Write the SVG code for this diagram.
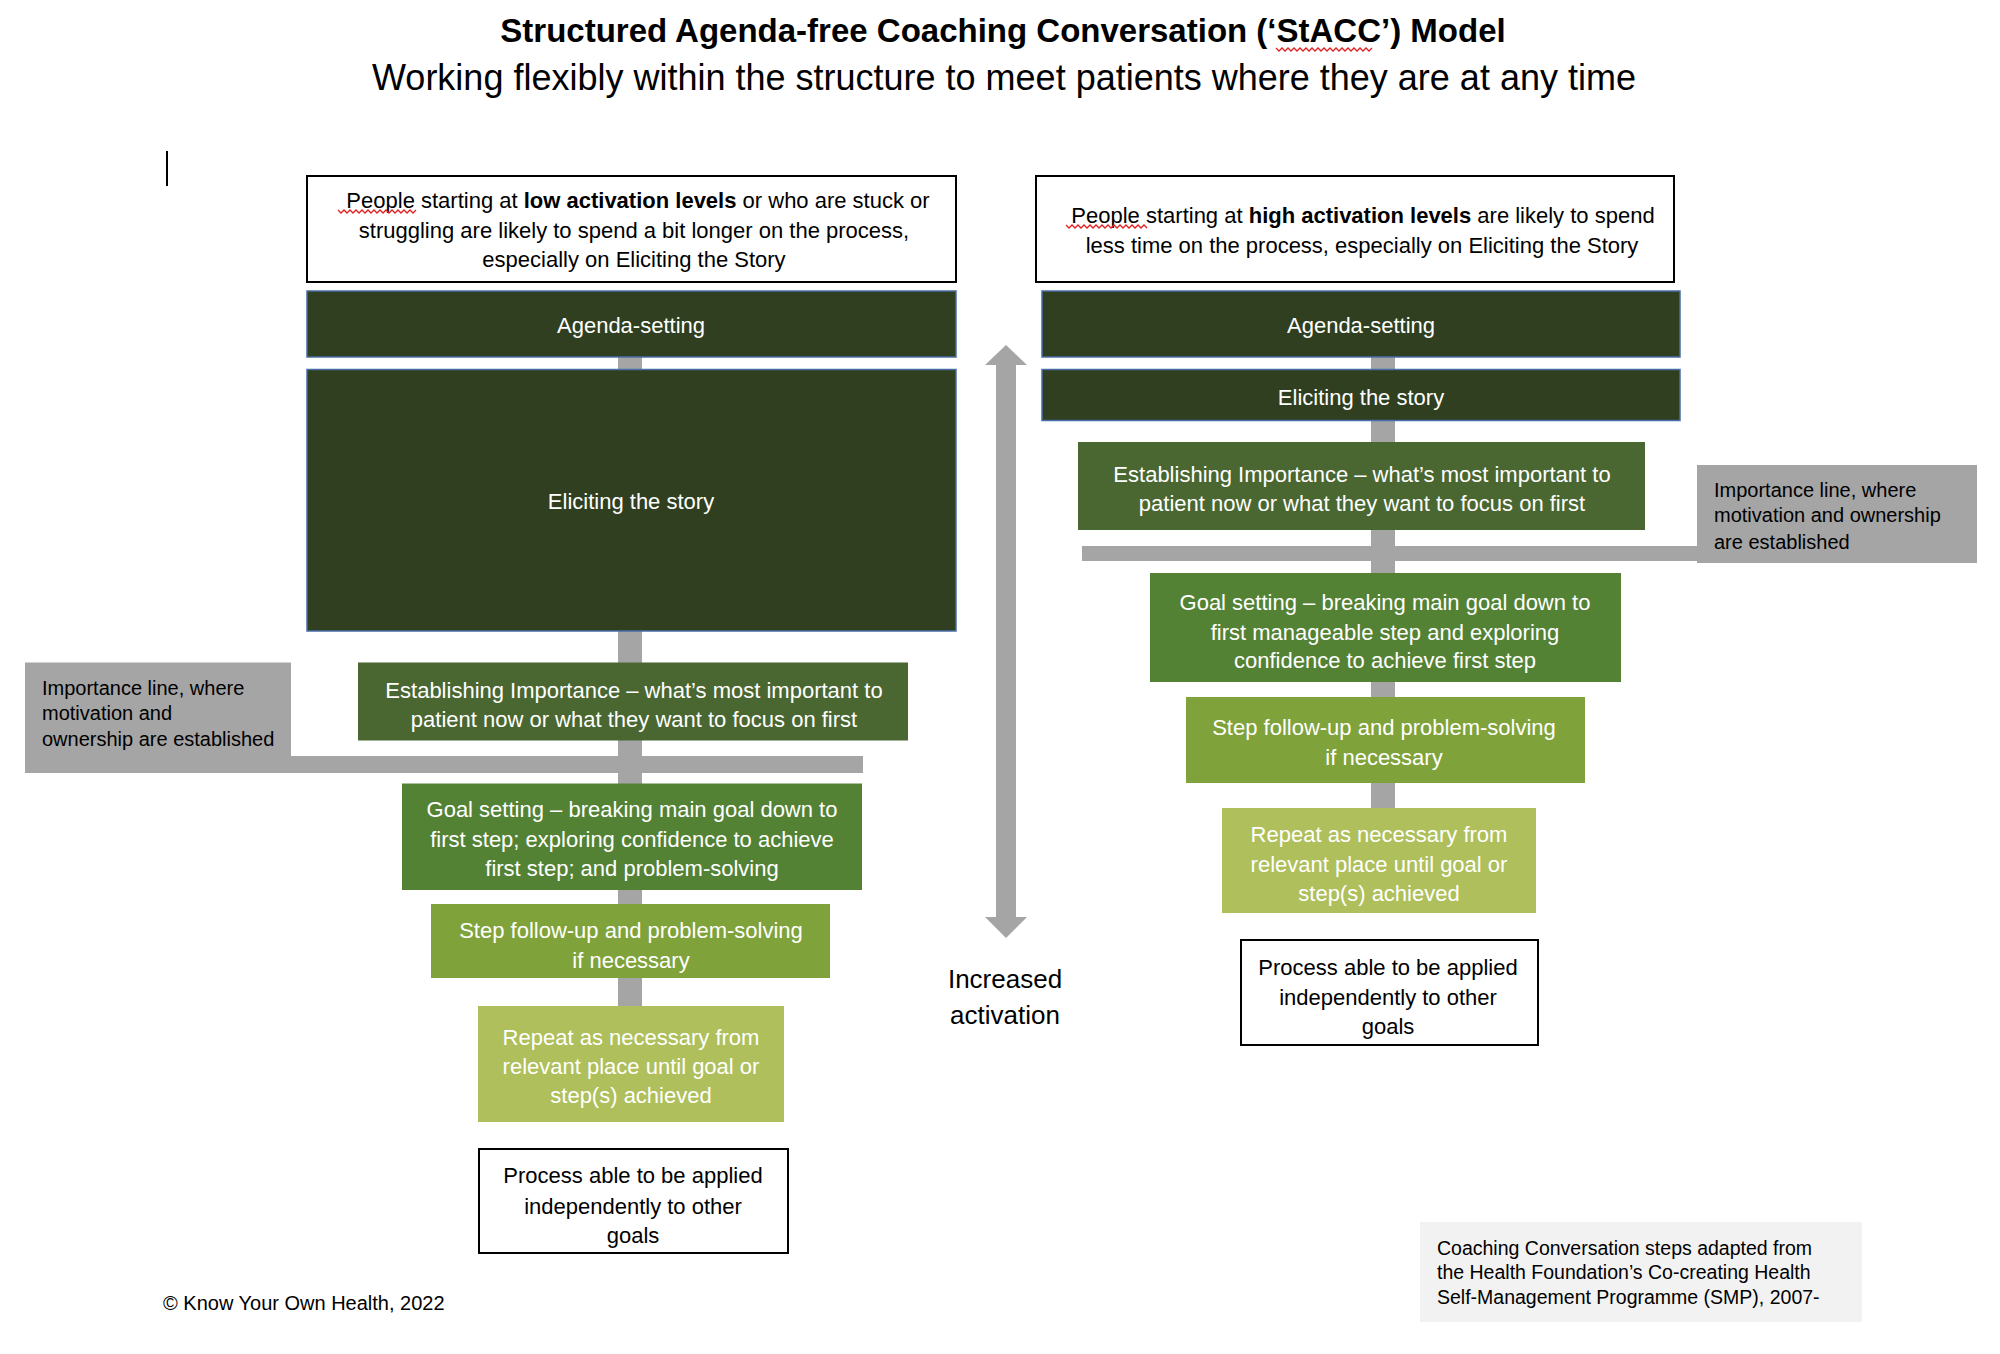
<svg xmlns="http://www.w3.org/2000/svg" width="2000" height="1354" viewBox="0 0 2000 1354">
<style>
text{font-family:"Liberation Sans",Arial,sans-serif}
.c{text-anchor:middle}
.w{fill:#ffffff;font-size:22px}
.k{fill:#000000;font-size:22px}
.g{fill:#000000;font-size:20px}
.hdr{fill:#ffffff;stroke:#000000;stroke-width:2}
.dark{fill:#2f3f1f;stroke:#4a6ea8;stroke-width:1.5}
.est{fill:#4a6731}
.goal{fill:#548235}
.step{fill:#7fa33a}
.rep{fill:#aebf5b}
.proc{fill:#ffffff;stroke:#000000;stroke-width:2}
.grey{fill:#a5a5a5}
.sq{fill:none;stroke:#e02020;stroke-width:1.3}
</style>
<rect width="2000" height="1354" fill="#ffffff"/>

<g id="title">
<text x="1003" y="42" class="c" font-size="33" font-weight="bold" fill="#000">Structured Agenda-free Coaching Conversation (‘StACC’) Model</text>
<text x="1004" y="90" class="c" font-size="36" fill="#000">Working flexibly within the structure to meet patients where they are at any time</text>
<polyline class="sq" points="1276,48 1279,51 1282,48 1285,51 1288,48 1291,51 1294,48 1297,51 1300,48 1303,51 1306,48 1309,51 1312,48 1315,51 1318,48 1321,51 1324,48 1327,51 1330,48 1333,51 1336,48 1339,51 1342,48 1345,51 1348,48 1351,51 1354,48 1357,51 1360,48 1363,51 1366,48 1369,51 1372,48"/>
<line x1="167" y1="151" x2="167" y2="186" stroke="#000" stroke-width="2"/>
</g>

<g id="connectors">
<rect class="grey" x="618" y="357" width="24" height="650"/>
<rect class="grey" x="1371" y="357" width="24" height="452"/>
<rect class="grey" x="233" y="756" width="630" height="17"/>
<rect class="grey" x="1082" y="546" width="616" height="15"/>
<polygon class="grey" points="1006,345 1027,365 1016,365 1016,917 1027,917 1006,938 985,917 996,917 996,365 985,365"/>
</g>

<g id="left-header">
<rect class="hdr" x="307" y="176" width="649" height="106"/>
<text x="638" y="208" class="c k">People starting at <tspan font-weight="bold">low activation levels</tspan> or who are stuck or</text>
<text x="634" y="238" class="c k">struggling are likely to spend a bit longer on the process,</text>
<text x="634" y="267" class="c k">especially on Eliciting the Story</text>
<polyline class="sq" points="338,210 341,213 344,210 347,213 350,210 353,213 356,210 359,213 362,210 365,213 368,210 371,213 374,210 377,213 380,210 383,213 386,210 389,213 392,210 395,213 398,210 401,213 404,210 407,213 410,210 413,213 416,210"/>
</g>

<g id="right-header">
<rect class="hdr" x="1036" y="176" width="638" height="106"/>
<text x="1363" y="223" class="c k" font-size="21.6">People starting at <tspan font-weight="bold">high activation levels</tspan> are likely to spend</text>
<text x="1362" y="253" class="c k">less time on the process, especially on Eliciting the Story</text>
<polyline class="sq" points="1066,225 1069,228 1072,225 1075,228 1078,225 1081,228 1084,225 1087,228 1090,225 1093,228 1096,225 1099,228 1102,225 1105,228 1108,225 1111,228 1114,225 1117,228 1120,225 1123,228 1126,225 1129,228 1132,225 1135,228 1138,225 1141,228 1144,225 1147,228"/>
</g>

<g id="left-agenda">
<rect class="dark" x="307" y="291" width="649" height="66"/>
<text x="631" y="333" class="c w">Agenda-setting</text>
</g>
<g id="left-eliciting">
<rect class="dark" x="307" y="369.5" width="649" height="261.5"/>
<text x="631" y="509" class="c w">Eliciting the story</text>
</g>
<g id="left-importance-note">
<rect class="grey" x="25" y="662.5" width="266" height="110.5"/>
<text x="42" y="695" class="g">Importance line, where</text>
<text x="42" y="720" class="g">motivation and</text>
<text x="42" y="746" class="g">ownership are established</text>
</g>
<g id="left-establishing">
<rect class="est" x="358" y="662.5" width="550" height="78"/>
<text x="634" y="698" class="c w">Establishing Importance – what’s most important to</text>
<text x="634" y="727" class="c w">patient now or what they want to focus on first</text>
</g>
<g id="left-goal">
<rect class="goal" x="402" y="783.5" width="460" height="106.5"/>
<text x="632" y="817" class="c w">Goal setting – breaking main goal down to</text>
<text x="632" y="847" class="c w">first step; exploring confidence to achieve</text>
<text x="632" y="876" class="c w">first step; and problem-solving</text>
</g>
<g id="left-step">
<rect class="step" x="431" y="904" width="399" height="74"/>
<text x="631" y="938" class="c w">Step follow-up and problem-solving</text>
<text x="631" y="968" class="c w">if necessary</text>
</g>
<g id="left-repeat">
<rect class="rep" x="478" y="1006" width="306" height="116"/>
<text x="631" y="1045" class="c w">Repeat as necessary from</text>
<text x="631" y="1074" class="c w">relevant place until goal or</text>
<text x="631" y="1103" class="c w">step(s) achieved</text>
</g>
<g id="left-process">
<rect class="proc" x="479" y="1149" width="309" height="104"/>
<text x="633" y="1183" class="c k">Process able to be applied</text>
<text x="633" y="1214" class="c k">independently to other</text>
<text x="633" y="1243" class="c k">goals</text>
</g>

<g id="right-agenda">
<rect class="dark" x="1042" y="291" width="638" height="66"/>
<text x="1361" y="333" class="c w">Agenda-setting</text>
</g>
<g id="right-eliciting">
<rect class="dark" x="1042" y="369.5" width="638" height="51"/>
<text x="1361" y="405" class="c w">Eliciting the story</text>
</g>
<g id="right-establishing">
<rect class="est" x="1078" y="442" width="567" height="88"/>
<text x="1362" y="482" class="c w">Establishing Importance – what’s most important to</text>
<text x="1362" y="511" class="c w">patient now or what they want to focus on first</text>
</g>
<g id="right-importance-note">
<rect class="grey" x="1697" y="465" width="280" height="98"/>
<text x="1714" y="497" class="g">Importance line, where</text>
<text x="1714" y="522" class="g">motivation and ownership</text>
<text x="1714" y="549" class="g">are established</text>
</g>
<g id="right-goal">
<rect class="goal" x="1150" y="573" width="471" height="109"/>
<text x="1385" y="610" class="c w">Goal setting – breaking main goal down to</text>
<text x="1385" y="640" class="c w">first manageable step and exploring</text>
<text x="1385" y="668" class="c w">confidence to achieve first step</text>
</g>
<g id="right-step">
<rect class="step" x="1186" y="697" width="399" height="86"/>
<text x="1384" y="735" class="c w">Step follow-up and problem-solving</text>
<text x="1384" y="765" class="c w">if necessary</text>
</g>
<g id="right-repeat">
<rect class="rep" x="1222" y="808" width="314" height="105"/>
<text x="1379" y="842" class="c w">Repeat as necessary from</text>
<text x="1379" y="872" class="c w">relevant place until goal or</text>
<text x="1379" y="901" class="c w">step(s) achieved</text>
</g>
<g id="right-process">
<rect class="proc" x="1241" y="940" width="297" height="105"/>
<text x="1388" y="975" class="c k">Process able to be applied</text>
<text x="1388" y="1005" class="c k">independently to other</text>
<text x="1388" y="1034" class="c k">goals</text>
</g>

<g id="activation-label">
<text x="1005" y="988" class="c" font-size="26" fill="#000">Increased</text>
<text x="1005" y="1024" class="c" font-size="26" fill="#000">activation</text>
</g>

<g id="source-note">
<rect x="1420" y="1222" width="442" height="100" fill="#f2f2f2"/>
<text x="1437" y="1255" font-size="19.5" fill="#000">Coaching Conversation steps adapted from</text>
<text x="1437" y="1279" font-size="19.5" fill="#000">the Health Foundation’s Co-creating Health</text>
<text x="1437" y="1304" font-size="19.5" fill="#000">Self-Management Programme (SMP), 2007-</text>
</g>

<g id="copyright">
<text x="163" y="1310" font-size="20" fill="#000">© Know Your Own Health, 2022</text>
</g>
</svg>
